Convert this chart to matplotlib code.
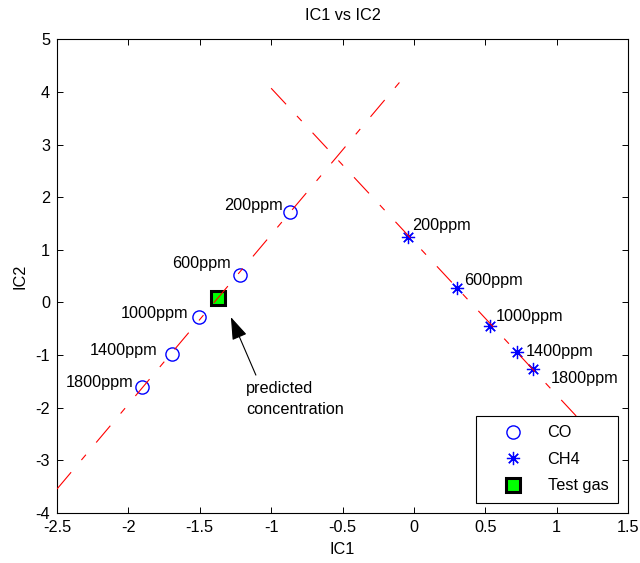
import matplotlib
matplotlib.use("Agg")
import matplotlib.pyplot as plt
from matplotlib.transforms import offset_copy

plt.rcParams['font.family'] = ['Liberation Sans', 'DejaVu Sans']
plt.rcParams['axes.unicode_minus'] = False
plt.rcParams['lines.scale_dashes'] = False

# ---- data ----
labels = ["200ppm", "600ppm", "1000ppm", "1400ppm", "1800ppm"]
co_x = [-0.87, -1.219, -1.502, -1.691, -1.907]
co_y = [1.72, 0.525, -0.28, -0.975, -1.61]
ch4_x = [-0.04, 0.302, 0.535, 0.72, 0.833]
ch4_y = [1.247, 0.278, -0.45, -0.945, -1.274]
test_x = [-1.373]
test_y = [0.08]
co_fit_x = [-2.5, -0.07]
co_fit_y = [-3.55, 4.28]
ch4_fit_x = [-1.0, 1.5]
ch4_fit_y = [4.07, -3.22]
xticks = [-2.5, -2, -1.5, -1, -0.5, 0, 0.5, 1, 1.5]
xticklabels = ["-2.5", "-2", "-1.5", "-1", "-0.5", "0", "0.5", "1", "1.5"]
yticks = [-4, -3, -2, -1, 0, 1, 2, 3, 4, 5]

# label offsets (pixels)
co_off = [(-7, 6), (-9, 11), (-11, 4), (-15, 3), (-8, 4)]
ch4_off = [(4, 11), (7, 7), (6, 9), (9, 1), (18, -9)]

PX = 0.72  # points per pixel at 100 dpi
FS = 11.7

fig = plt.figure(figsize=(6.4, 5.63), dpi=100)
ax = fig.add_axes([57/640, 1-512.7/563, 571/640, 473.4/563])

dash = (0, (15.8, 11.5, 5, 11.5))
ax.plot(co_x, co_y, linestyle='none', marker='o', markersize=9.5,
        markerfacecolor='none', markeredgecolor='#0000ff', markeredgewidth=1.0,
        label='CO', zorder=2)
ax.plot(ch4_x, ch4_y, linestyle='none', marker=(8, 2, 0), markersize=9.5,
        color='#0000ff', markeredgewidth=0.9, label='CH4', zorder=2)
ax.plot(ch4_fit_x, ch4_fit_y, color='#ff0000', lw=0.8, linestyle=dash, zorder=3)
ax.plot(test_x, test_y, linestyle='none', marker='s', markersize=9.5,
        markerfacecolor='#00ff00', markeredgecolor='black', markeredgewidth=2.2,
        label='Test gas', zorder=2)
ax.plot(co_fit_x, co_fit_y, color='#ff0000', lw=0.8, linestyle=dash, zorder=4)

for x, y, t, (dx, dy) in zip(co_x, co_y, labels, co_off):
    ax.annotate(t, xy=(x, y), xytext=(dx*PX, dy*PX), textcoords='offset points',
                ha='right', va='center', fontsize=FS)
for x, y, t, (dx, dy) in zip(ch4_x, ch4_y, labels, ch4_off):
    ax.annotate(t, xy=(x, y), xytext=(dx*PX, dy*PX), textcoords='offset points',
                ha='left', va='center', fontsize=FS)

# arrow + predicted concentration text
tip_tr = offset_copy(ax.transData, fig=fig, x=13*PX, y=-19*PX, units='points')
ax.annotate('', xy=(test_x[0], test_y[0]), xycoords=tip_tr,
            xytext=(25*PX, -58*PX), textcoords='offset points',
            arrowprops=dict(arrowstyle='-|>,head_length=0.7,head_width=0.24',
                            mutation_scale=20, color='black', lw=0.8,
                            shrinkA=0, shrinkB=0))
ax.annotate('predicted\nconcentration', xy=(test_x[0], test_y[0]), xycoords=tip_tr,
            xytext=(15*PX, -64*PX), textcoords='offset points',
            ha='left', va='top', fontsize=FS, linespacing=1.5)

ax.set_xlim(-2.5, 1.5)
ax.set_ylim(-4, 5)
ax.set_xticks(xticks)
ax.set_xticklabels(xticklabels)
ax.set_yticks(yticks)
ax.tick_params(direction='in', length=4.5, width=0.7, top=True, right=True,
               labelsize=FS, pad=5)
for s in ax.spines.values():
    s.set_linewidth(0.8)

ax.set_title('IC1 vs IC2', fontsize=FS, pad=14)
ax.set_xlabel('IC1', fontsize=FS, labelpad=5)
ax.set_ylabel('IC2', fontsize=FS, labelpad=6)

leg = ax.legend(loc='lower right', bbox_to_anchor=(0.9825, 0.0205),
                borderaxespad=0, fancybox=False, framealpha=1,
                edgecolor='black', fontsize=FS, numpoints=1,
                handlelength=3.3, handletextpad=0.5, labelspacing=0.7,
                borderpad=0.6)
leg.get_frame().set_linewidth(0.8)
leg.set_zorder(10)

fig.savefig('out.png', dpi=100)
